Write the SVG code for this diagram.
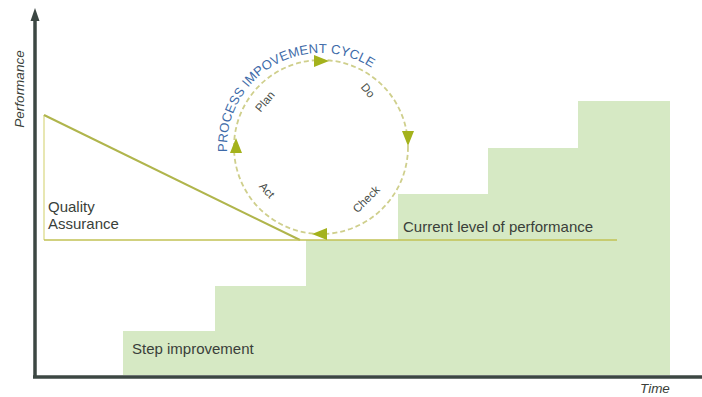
<svg xmlns="http://www.w3.org/2000/svg" width="702" height="397" viewBox="0 0 702 397">
<style>
.lbl{font-family:"Liberation Sans",Arial,sans-serif;font-size:15px;fill:#3a3f3a}
.it{font-style:italic;font-size:13.5px}
.cyc{font-family:"Liberation Sans",Arial,sans-serif;font-size:11.5px;fill:#4a4f4a}
.ttl{font-family:"Liberation Sans",Arial,sans-serif;font-size:13px;fill:#3d6aa8}
.ah{fill:#a4b21c}
</style>
<defs>
<path id="arcTitle" d="M227.1,151.9 A94,94 0 0 1 373.6,69.1"/>
</defs>
<rect width="702" height="397" fill="#ffffff"/>
<g id="steps">
<path d="M123,375 V331 H215 V286 H306 V240 H398 V194 H488 V148 H578 V101 H670 V375 Z" fill="#d6e9c4"/>
</g>
<g id="quality-assurance">
<line x1="44" y1="115" x2="44" y2="240" stroke="#e0df9a" stroke-width="1.5"/>
<line x1="44" y1="115" x2="300" y2="240" stroke="#b0b54c" stroke-width="2"/>
<text class="lbl" x="48" y="212">Quality</text>
<text class="lbl" x="48" y="229">Assurance</text>
</g>
<g id="current-level">
<line x1="44" y1="240" x2="617" y2="240" stroke="#c2c255" stroke-width="1.5"/>
<text class="lbl" x="403" y="232">Current level of performance</text>
</g>
<g id="axes">
<line x1="35" y1="378" x2="35" y2="16" stroke="#3c4743" stroke-width="3.5"/>
<polygon points="35,8 30.5,21 39.5,21" fill="#3c4743"/>
<line x1="33" y1="377" x2="702" y2="377" stroke="#3c4743" stroke-width="3.5"/>
<text class="lbl it" x="640" y="393">Time</text>
<text class="lbl it" transform="translate(24,89) rotate(-90)" text-anchor="middle">Performance</text>
</g>
<g id="step-label">
<text class="lbl" x="132" y="354">Step improvement</text>
</g>
<g id="cycle">
<circle cx="321" cy="147" r="87" fill="none" stroke="#cfcf8c" stroke-width="1.8" stroke-dasharray="5,3"/>
<polygon class="ah" points="329,61 314,55 314,67"/>
<polygon class="ah" points="408,146 402,131 414,131"/>
<polygon class="ah" points="312,234 327,228 327,240"/>
<polygon class="ah" points="236,138 230,153 242,153"/>
<text class="cyc" transform="translate(268,104) rotate(-50)" text-anchor="middle">Plan</text>
<text class="cyc" transform="translate(365,93) rotate(50)" text-anchor="middle">Do</text>
<text class="cyc" transform="translate(369,202) rotate(-45)" text-anchor="middle">Check</text>
<text class="cyc" transform="translate(264,193) rotate(48)" text-anchor="middle">Act</text>
<text class="ttl"><textPath href="#arcTitle" textLength="206" lengthAdjust="spacing">PROCESS IMPOVEMENT CYCLE</textPath></text>
</g>
</svg>
